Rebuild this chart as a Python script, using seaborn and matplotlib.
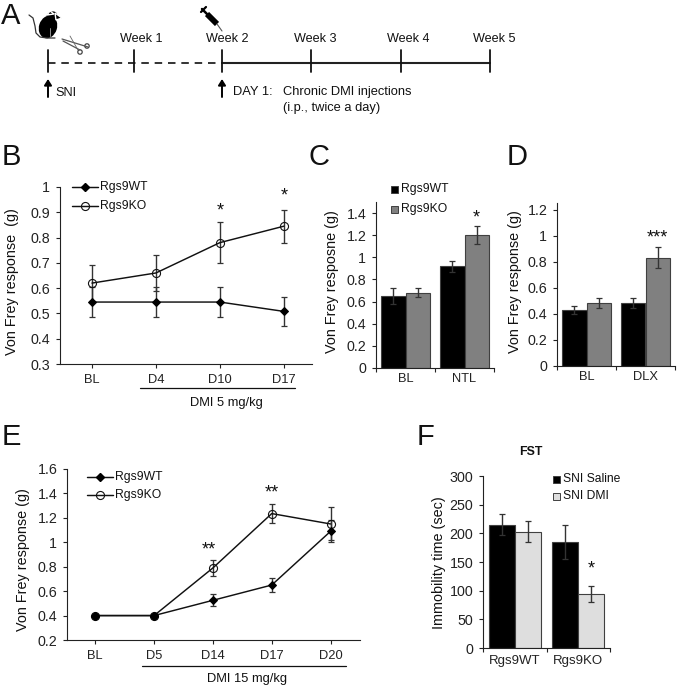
import numpy as np
import pandas as pd
import seaborn as sns
import matplotlib.pyplot as plt
from matplotlib.patches import Ellipse, Polygon, Circle

W, H = 677, 688
cinza = '#808080'
cinza_claro = '#dedede'
borda = '#404040'

# Painel B
dias_b = ['BL', 'D4', 'D10', 'D17']
wt_b = [0.545, 0.545, 0.545, 0.508]
wt_b_err = [0.06, 0.06, 0.06, 0.056]
ko_b = [0.62, 0.66, 0.78, 0.845]
ko_b_err = [0.07, 0.07, 0.08, 0.065]

# Painel C
grupos_c = ['BL', 'NTL']
wt_c = [0.65, 0.92]
wt_c_err = [0.07, 0.05]
ko_c = [0.68, 1.2]
ko_c_err = [0.04, 0.08]

# Painel D
grupos_d = ['BL', 'DLX']
wt_d = [0.43, 0.485]
wt_d_err = [0.03, 0.04]
ko_d = [0.485, 0.83]
ko_d_err = [0.04, 0.08]

# Painel E
dias_e = ['BL', 'D5', 'D14', 'D17', 'D20']
wt_e = [0.4, 0.4, 0.525, 0.65, 1.09]
wt_e_err = [0, 0, 0.05, 0.055, 0.09]
ko_e = [0.4, 0.4, 0.79, 1.235, 1.15]
ko_e_err = [0, 0, 0.065, 0.08, 0.135]

# Painel F
grupos_f = ['Rgs9WT', 'Rgs9KO']
saline_f = [215, 185]
saline_f_err = [18, 30]
dmi_f = [203, 95]
dmi_f_err = [18, 14]

# Painel A
semanas = ['Week 1', 'Week 2', 'Week 3', 'Week 4', 'Week 5']
semanas_x = [48, 134, 222, 311, 401, 490]
semanas_texto_x = [141, 227, 315, 408, 494]

sns.set_style('ticks')
plt.rcParams['font.family'] = ['Liberation Sans', 'DejaVu Sans']
plt.rcParams['font.size'] = 10
plt.rcParams['axes.edgecolor'] = '#222222'
plt.rcParams['axes.linewidth'] = 0.8
plt.rcParams['xtick.color'] = '#222222'
plt.rcParams['ytick.color'] = '#222222'
plt.rcParams['text.color'] = '#111111'
plt.rcParams['axes.labelcolor'] = '#111111'

fig = plt.figure(figsize=(W / 100, H / 100), dpi=100)
fig.patch.set_facecolor('white')


def eixo_px(x0, x1, y_topo, y_base):
    return fig.add_axes([x0 / W, 1 - y_base / H, (x1 - x0) / W, (y_base - y_topo) / H])


def titulo_y(ax, texto, x_px, y_px):
    caixa = ax.get_position()
    ax.set_ylabel(texto, fontsize=10.4, va='center')
    ax.yaxis.set_label_coords((x_px / W - caixa.x0) / caixa.width,
                              (1 - y_px / H - caixa.y0) / caixa.height)


def grafico_linha(ax, dias, wt, wt_err, ko, ko_err):
    df = pd.DataFrame({'dia': dias, 'wt': wt, 'ko': ko})
    ax.errorbar(dias, ko, yerr=ko_err, fmt='none', ecolor='#333333', elinewidth=1, capsize=2.3, capthick=0.9)
    ax.errorbar(dias, wt, yerr=wt_err, fmt='none', ecolor='#333333', elinewidth=1, capsize=2.3, capthick=0.9)
    sns.lineplot(data=df, x='dia', y='ko', ax=ax, sort=False, color='#111111', linewidth=1.05,
                 marker='o', markersize=5.8, markerfacecolor='none', markeredgecolor='#111111',
                 markeredgewidth=0.8, errorbar=None)
    sns.lineplot(data=df, x='dia', y='wt', ax=ax, sort=False, color='#111111', linewidth=1.05,
                 marker='D', markersize=3.8, markerfacecolor='black', markeredgecolor='black', errorbar=None)
    ax.set_xlabel('')
    sns.despine(ax=ax)
    ax.tick_params(axis='both', length=3, width=0.8)
    ax.tick_params(axis='y', labelsize=10.3, pad=4)
    ax.tick_params(axis='x', labelsize=9.3, pad=4)


def grafico_barra(ax, grupos, a, a_err, b, b_err, nomes, cores):
    df = pd.DataFrame({'grupo': grupos * 2, 'valor': a + b,
                       'serie': [nomes[0]] * len(a) + [nomes[1]] * len(b)})
    sns.barplot(data=df, x='grupo', y='valor', hue='serie', palette=cores, width=0.82, gap=0,
                errorbar=None, edgecolor=borda, linewidth=0.8, ax=ax, legend=False)
    centros = []
    for p in ax.patches[:len(a) + len(b)]:
        centros.append(p.get_x() + p.get_width() / 2)
    ax.errorbar(centros, a + b, yerr=a_err + b_err, fmt='none', ecolor='#333333', elinewidth=1, capsize=2.3, capthick=0.9)
    ax.set_xlim(-0.5, 1.5)
    ax.set_xlabel('')
    sns.despine(ax=ax)
    # ticks nas fronteiras, rótulos no centro
    ax.set_xticks([0, 1], grupos, fontsize=9.3)
    ax.tick_params(axis='x', length=0, pad=3.5)
    ax.set_xticks([-0.5, 0.5, 1.5], minor=True)
    ax.tick_params(axis='x', which='minor', length=3, width=0.8)
    ax.tick_params(axis='y', length=3, width=0.8, pad=4, labelsize=10.3)


def rotulos(valores):
    return [str(round(v, 1)) if v not in (0, 1) else str(int(v)) for v in valores]


# ----- B -----
ax_b = eixo_px(60, 312, 187, 364)
grafico_linha(ax_b, dias_b, wt_b, wt_b_err, ko_b, ko_b_err)
ax_b.set_xlim(-0.5, 3.44)
ax_b.set_ylim(0.3, 1)
ticks_b = [0.3, 0.4, 0.5, 0.6, 0.7, 0.8, 0.9, 1]
ax_b.set_yticks(ticks_b, rotulos(ticks_b))
titulo_y(ax_b, 'Von Frey response  (g)', 12, 282)
ax_b.text(2, 0.905, '*', ha='center', va='center', fontsize=13)
ax_b.text(3, 0.965, '*', ha='center', va='center', fontsize=13)

# ----- C -----
ax_c = eixo_px(376, 494, 202, 368)
grafico_barra(ax_c, grupos_c, wt_c, wt_c_err, ko_c, ko_c_err, ['Rgs9WT', 'Rgs9KO'], ['black', cinza])
ax_c.set_ylim(0, 1.5)
ticks_c = [0, 0.2, 0.4, 0.6, 0.8, 1, 1.2, 1.4]
ax_c.set_yticks(ticks_c, rotulos(ticks_c))
titulo_y(ax_c, 'Von Frey resposne (g)', 332, 282)
ax_c.text(1.205, 1.36, '*', ha='center', va='center', fontsize=13)

# ----- D -----
ax_d = eixo_px(557, 675, 203, 366)
grafico_barra(ax_d, grupos_d, wt_d, wt_d_err, ko_d, ko_d_err, ['Rgs9WT', 'Rgs9KO'], ['black', cinza])
ax_d.set_ylim(0, 1.25)
ticks_d = [0, 0.2, 0.4, 0.6, 0.8, 1, 1.2]
ax_d.set_yticks(ticks_d, rotulos(ticks_d))
titulo_y(ax_d, 'Von Frey response (g)', 515, 282)
ax_d.text(1.205, 0.985, '***', ha='center', va='center', fontsize=13)

# ----- E -----
ax_e = eixo_px(67, 360, 469, 640)
grafico_linha(ax_e, dias_e, wt_e, wt_e_err, ko_e, ko_e_err)
sns.scatterplot(x=dias_e[:2], y=wt_e[:2], ax=ax_e, color='black', s=32, zorder=5, linewidth=0)
ax_e.set_xlim(-0.48, 4.5)
ax_e.set_ylim(0.2, 1.6)
ticks_e = [0.2, 0.4, 0.6, 0.8, 1, 1.2, 1.4, 1.6]
ax_e.set_yticks(ticks_e, rotulos(ticks_e))
titulo_y(ax_e, 'Von Frey response (g)', 23, 560)
ax_e.text(1.93, 0.94, '**', ha='center', va='center', fontsize=13)
ax_e.text(3, 1.4, '**', ha='center', va='center', fontsize=13)

# ----- F -----
ax_f = eixo_px(483, 610, 476, 648)
grafico_barra(ax_f, grupos_f, saline_f, saline_f_err, dmi_f, dmi_f_err, ['SNI Saline', 'SNI DMI'], ['black', cinza_claro])
ax_f.set_ylim(0, 300)
ax_f.set_yticks(range(0, 301, 50))
titulo_y(ax_f, 'Immobility time (sec)', 439, 563)
ax_f.tick_params(axis='x', labelsize=9.5, pad=5)
ax_f.text(1.205, 138, '*', ha='center', va='center', fontsize=13)

# camada em pixels para as anotações e o painel A
ov = fig.add_axes([0, 0, 1, 1], zorder=10)
ov.set_xlim(0, W)
ov.set_ylim(H, 0)
ov.axis('off')
ov.patch.set_alpha(0)

for letra, x, y in [('A', 1, 24), ('B', 2, 165), ('C', 309, 165), ('D', 507, 165), ('E', 2, 445), ('F', 417, 445)]:
    ov.text(x, y, letra, fontsize=21, color='#111111', va='baseline', ha='left')


# legendas
def legenda_linha(x, y1, y2):
    ov.plot([x, x + 26], [y1, y1], color='#111111', lw=1.05)
    ov.plot([x + 13], [y1], marker='D', ms=3.8, color='black')
    ov.text(x + 28, y1, 'Rgs9WT', va='center', fontsize=8.7)
    ov.plot([x, x + 26], [y2, y2], color='#111111', lw=1.05)
    ov.plot([x + 13], [y2], marker='o', ms=5.8, mfc='none', mec='#111111', mew=0.8)
    ov.text(x + 28, y2, 'Rgs9KO', va='center', fontsize=8.7)


def legenda_barra(x, y1, y2, nomes, cores):
    for y, nome, cor in zip([y1, y2], nomes, cores):
        ov.add_patch(plt.Rectangle((x, y - 3.5), 7, 7, fc=cor, ec=borda, lw=0.7))
        ov.text(x + 10, y, nome, va='center', fontsize=8.7)


legenda_linha(72, 187, 206)
legenda_linha(87, 477, 495)
legenda_barra(391, 189, 209, ['Rgs9WT', 'Rgs9KO'], ['black', cinza])
legenda_barra(553, 479, 496, ['SNI Saline', 'SNI DMI'], ['black', cinza_claro])
ov.text(531, 452, 'FST', fontsize=8.9, fontweight='bold', ha='center', va='center')

# traços e textos sob os eixos
ov.plot([140, 295], [388, 388], color='#111111', lw=0.9)
ov.text(226, 403, 'DMI 5 mg/kg', fontsize=9.3, ha='center', va='center')
ov.plot([142, 346], [666, 666], color='#111111', lw=0.9)
ov.text(247, 679, 'DMI 15 mg/kg', fontsize=9.3, ha='center', va='center')

# ----- A: linha do tempo -----
y_lin = 63
ov.plot(semanas_x[:3], [y_lin] * 3, color='#111111', lw=1.2, ls=(0, (4.5, 3.5)))
ov.plot(semanas_x[2:], [y_lin] * 4, color='#222222', lw=1.5)
for x in semanas_x:
    ov.plot([x, x], [50, 72], color='#111111', lw=1.3)
for x, nome in zip(semanas_texto_x, semanas):
    ov.text(x, 39, nome, fontsize=9.1, ha='center', va='center')
for x in [semanas_x[0], semanas_x[2]]:
    ov.annotate('', xy=(x, 79), xytext=(x, 97),
                arrowprops=dict(arrowstyle='-|>,head_width=0.22,head_length=0.35', color='black', lw=1.4, shrinkA=0, shrinkB=0))
ov.text(55, 93, 'SNI', fontsize=9.2, va='center')
ov.text(233, 92, 'DAY 1:', fontsize=9.3, va='center')
ov.text(283, 92, 'Chronic DMI injections', fontsize=9.3, va='center')
ov.text(283, 108, '(i.p., twice a day)', fontsize=9.3, va='center')

# rato
ov.add_patch(Ellipse((48, 27), 18, 23, angle=18, fc='black', ec='none'))
ov.add_patch(Ellipse((52, 16), 11, 9, angle=-20, fc='black', ec='none'))
ov.add_patch(Polygon([[47, 15], [50, 11], [54, 14]], fc='black'))
ov.add_patch(Polygon([[55, 13], [62, 18], [56, 20]], fc='black'))
ov.plot([29, 33, 35, 36, 40, 47, 55], [15, 18, 26, 33, 37, 38, 38], color='#333333', lw=0.9)
ov.plot([50, 50], [28, 36], color='#aaaaaa', lw=0.6)

# tesoura
ov.plot([62, 88], [39, 47], color='#555555', lw=0.9)
ov.plot([63, 80], [41, 50], color='#555555', lw=0.9)
ov.plot([70, 78], [36, 50], color='#666666', lw=0.6)
ov.add_patch(Circle((87, 46), 2.2, fc='none', ec='#444444', lw=0.9))
ov.add_patch(Circle((80, 52), 2.2, fc='none', ec='#444444', lw=0.9))

# seringa
ov.plot([207, 217], [14, 24], color='black', lw=4.2, solid_capstyle='butt')
ov.plot([202, 207], [9, 14], color='black', lw=1.8)
ov.plot([201, 206], [12, 7], color='black', lw=1.6)
ov.plot([217, 222], [24, 31], color='#555555', lw=0.8)

plt.savefig('out.png', dpi=100)
